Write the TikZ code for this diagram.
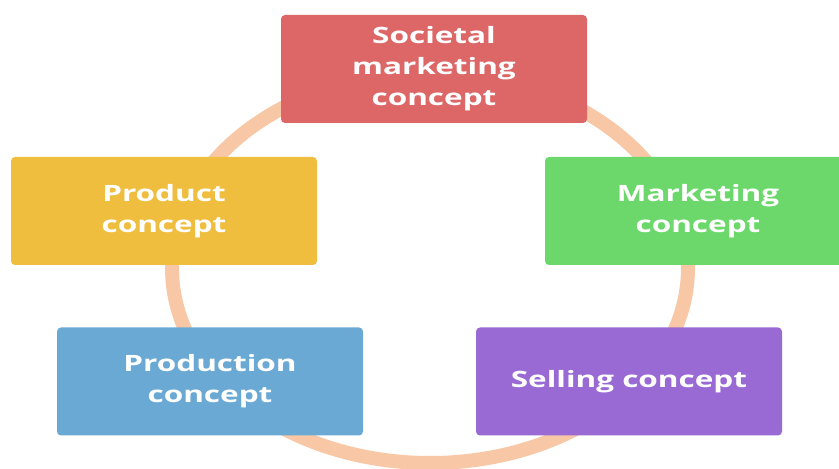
\documentclass[tikz,border=0pt]{standalone}
\usepackage{fontspec}
\setsansfont{Open Sans}[FakeStretch=1.4]
\usepackage{tikz}
\usetikzlibrary{positioning}

\definecolor{ringpeach}{HTML}{F8C8A6}
\definecolor{societal}{HTML}{DD6767}
\definecolor{product}{HTML}{F0BE3E}
\definecolor{marketing}{HTML}{6CD86C}
\definecolor{production}{HTML}{6AA9D4}
\definecolor{selling}{HTML}{9A6AD4}

\begin{document}
\begin{tikzpicture}[x=1pt,y=1pt,
  concept/.style={rectangle, rounded corners=4pt, text=white, align=center,
    minimum width=306pt, minimum height=108pt, inner sep=0pt,
    execute at begin node={\vspace*{8pt}},
    font=\sffamily\bfseries\fontsize{22.5}{31}\selectfont}]
  \useasboundingbox (0,0) rectangle (839,469);

  % ring behind the boxes
  \draw[ringpeach, line width=14pt] (430,201) ellipse [x radius=258, y radius=195];

  \node[concept, fill=societal]   (soc)  at (434,400)  {Societal\\marketing\\concept};
  \node[concept, fill=product]    (prod) at (164,258)  {Product\\concept};
  \node[concept, fill=marketing]  (mkt)  at (698,258)  {Marketing\\concept};
  \node[concept, fill=production] (pron) at (210,87.5) {Production\\concept};
  \node[concept, fill=selling]    (sell) at (629,87.5) {Selling concept};
\end{tikzpicture}
\end{document}
